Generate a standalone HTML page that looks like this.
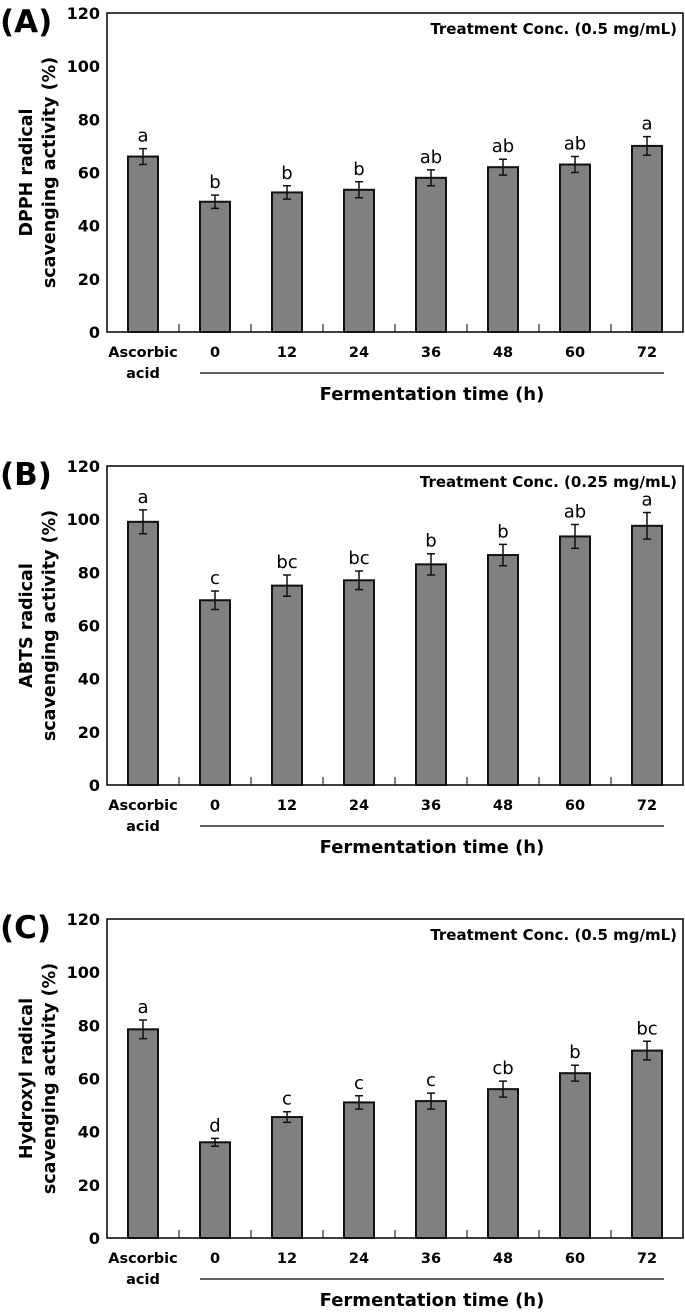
<!DOCTYPE html>
<html><head><meta charset="utf-8"><style>
body{margin:0;background:#fff;}
svg{display:block;font-family:"DejaVu Sans","Liberation Sans",sans-serif;}
</style></head><body>
<svg id="fig" width="685" height="1316" viewBox="0 0 685 1316"></svg>
<script>
const categories=["Ascorbic|acid","0","12","24","36","48","60","72"];
const yTicks=[0,20,40,60,80,100,120];
const valuesA=[66,49,52.5,53.5,58,62,63,70];
const errorsA=[3,2.5,2.5,3,3,3,3,3.5];
const lettersA=["a","b","b","b","ab","ab","ab","a"];
const valuesB=[99,69.5,75,77,83,86.5,93.5,97.5];
const errorsB=[4.5,3.5,4,3.5,4,4,4.5,5];
const lettersB=["a","c","bc","bc","b","b","ab","a"];
const valuesC=[78.5,36,45.5,51,51.5,56,62,70.5];
const errorsC=[3.5,1.5,2,2.5,3,3,3,3.5];
const lettersC=["a","d","c","c","c","cb","b","bc"];
const panels=[
 {label:"(A)",title:["DPPH radical","scavenging activity (%)"],conc:"Treatment Conc. (0.5 mg/mL)",v:valuesA,e:errorsA,l:lettersA,name:"dpph"},
 {label:"(B)",title:["ABTS radical","scavenging activity (%)"],conc:"Treatment Conc. (0.25 mg/mL)",v:valuesB,e:errorsB,l:lettersB,name:"abts"},
 {label:"(C)",title:["Hydroxyl radical","scavenging activity (%)"],conc:"Treatment Conc. (0.5 mg/mL)",v:valuesC,e:errorsC,l:lettersC,name:"hydroxyl"}
];
const svg=document.getElementById('fig');
const NS="http://www.w3.org/2000/svg";
function mk(tag,attrs,parent,text){const e=document.createElementNS(NS,tag);for(const k in attrs)e.setAttribute(k,attrs[k]);if(text!==undefined)e.textContent=text;(parent||svg).appendChild(e);return e;}
const L=107,R=683,bw=30;
const step=(R-L)/categories.length;
panels.forEach((p,pi)=>{
 const off=pi*453;
 const top=13+off,bot=332+off;
 const y=v=>bot-(v/120)*(bot-top);
 const x=i=>L+step*(i+0.5);
 const g=mk('g',{});
 
 
 const pl=mk('text',{x:0,y:off+32,'font-size':31,'font-weight':'bold','font-family':'DejaVu Sans'},g,p.label);
 
 
 p.title.forEach((t,ti)=>{
  const cx=27+ti*23,cy=(top+bot)/2;
  const tt=mk('text',{x:cx,y:cy,'font-size':17.5,'font-weight':'bold','text-anchor':'middle',transform:`rotate(-90 ${cx} ${cy})`,'dominant-baseline':'middle'},g,t);
  
  
 });
 yTicks.forEach(t=>{
  const tl=mk('text',{x:100,y:y(t)+6,'font-size':16,'font-weight':'bold','text-anchor':'end'},g,t);
  
  
 });
 const frame=mk('rect',{x:L,y:top,width:R-L,height:bot-top,fill:'none',stroke:'#000','stroke-width':1.5},g);
 
 
 for(let i=1;i<categories.length;i++){
  const tk=mk('line',{x1:L+step*i,x2:L+step*i,y1:bot,y2:bot-8,stroke:'#000','stroke-width':1},g);
  
  
 }
 const cc=mk('text',{x:677,y:top+21,'font-size':15,'font-weight':'bold','text-anchor':'end'},g,p.conc);
 
 
 p.v.forEach((v,i)=>{
  const b=mk('rect',{x:x(i)-bw/2,y:y(v),width:bw,height:bot-y(v),fill:'#808080',stroke:'#111','stroke-width':2},g);
  
  
  const e=p.e[i];
  const eb=mk('path',{d:`M${x(i)} ${y(v+e)}V${y(v-e)}M${x(i)-4} ${y(v+e)}H${x(i)+4}M${x(i)-4} ${y(v-e)}H${x(i)+4}`,stroke:'#111','stroke-width':1.5,fill:'none'},g);
  
  
  const lt=mk('text',{x:x(i),y:y(v+e)-7,'font-size':18,'text-anchor':'middle'},g,p.l[i]);
  
  
  const parts=categories[i].split('|');
  parts.forEach((s,si)=>{
   const cl=mk('text',{x:x(i),y:bot+25+si*21,'font-size':14.5,'font-weight':'bold','text-anchor':'middle'},g,s);
   
   
  });
 });
 const ul=mk('line',{x1:200,x2:664,y1:bot+41,y2:bot+41,stroke:'#000','stroke-width':1.2},g);
 
 
 const xt=mk('text',{x:432,y:bot+68,'font-size':18,'font-weight':'bold','text-anchor':'middle'},g,'Fermentation time (h)');
 
 
});
</script>
</body></html>
